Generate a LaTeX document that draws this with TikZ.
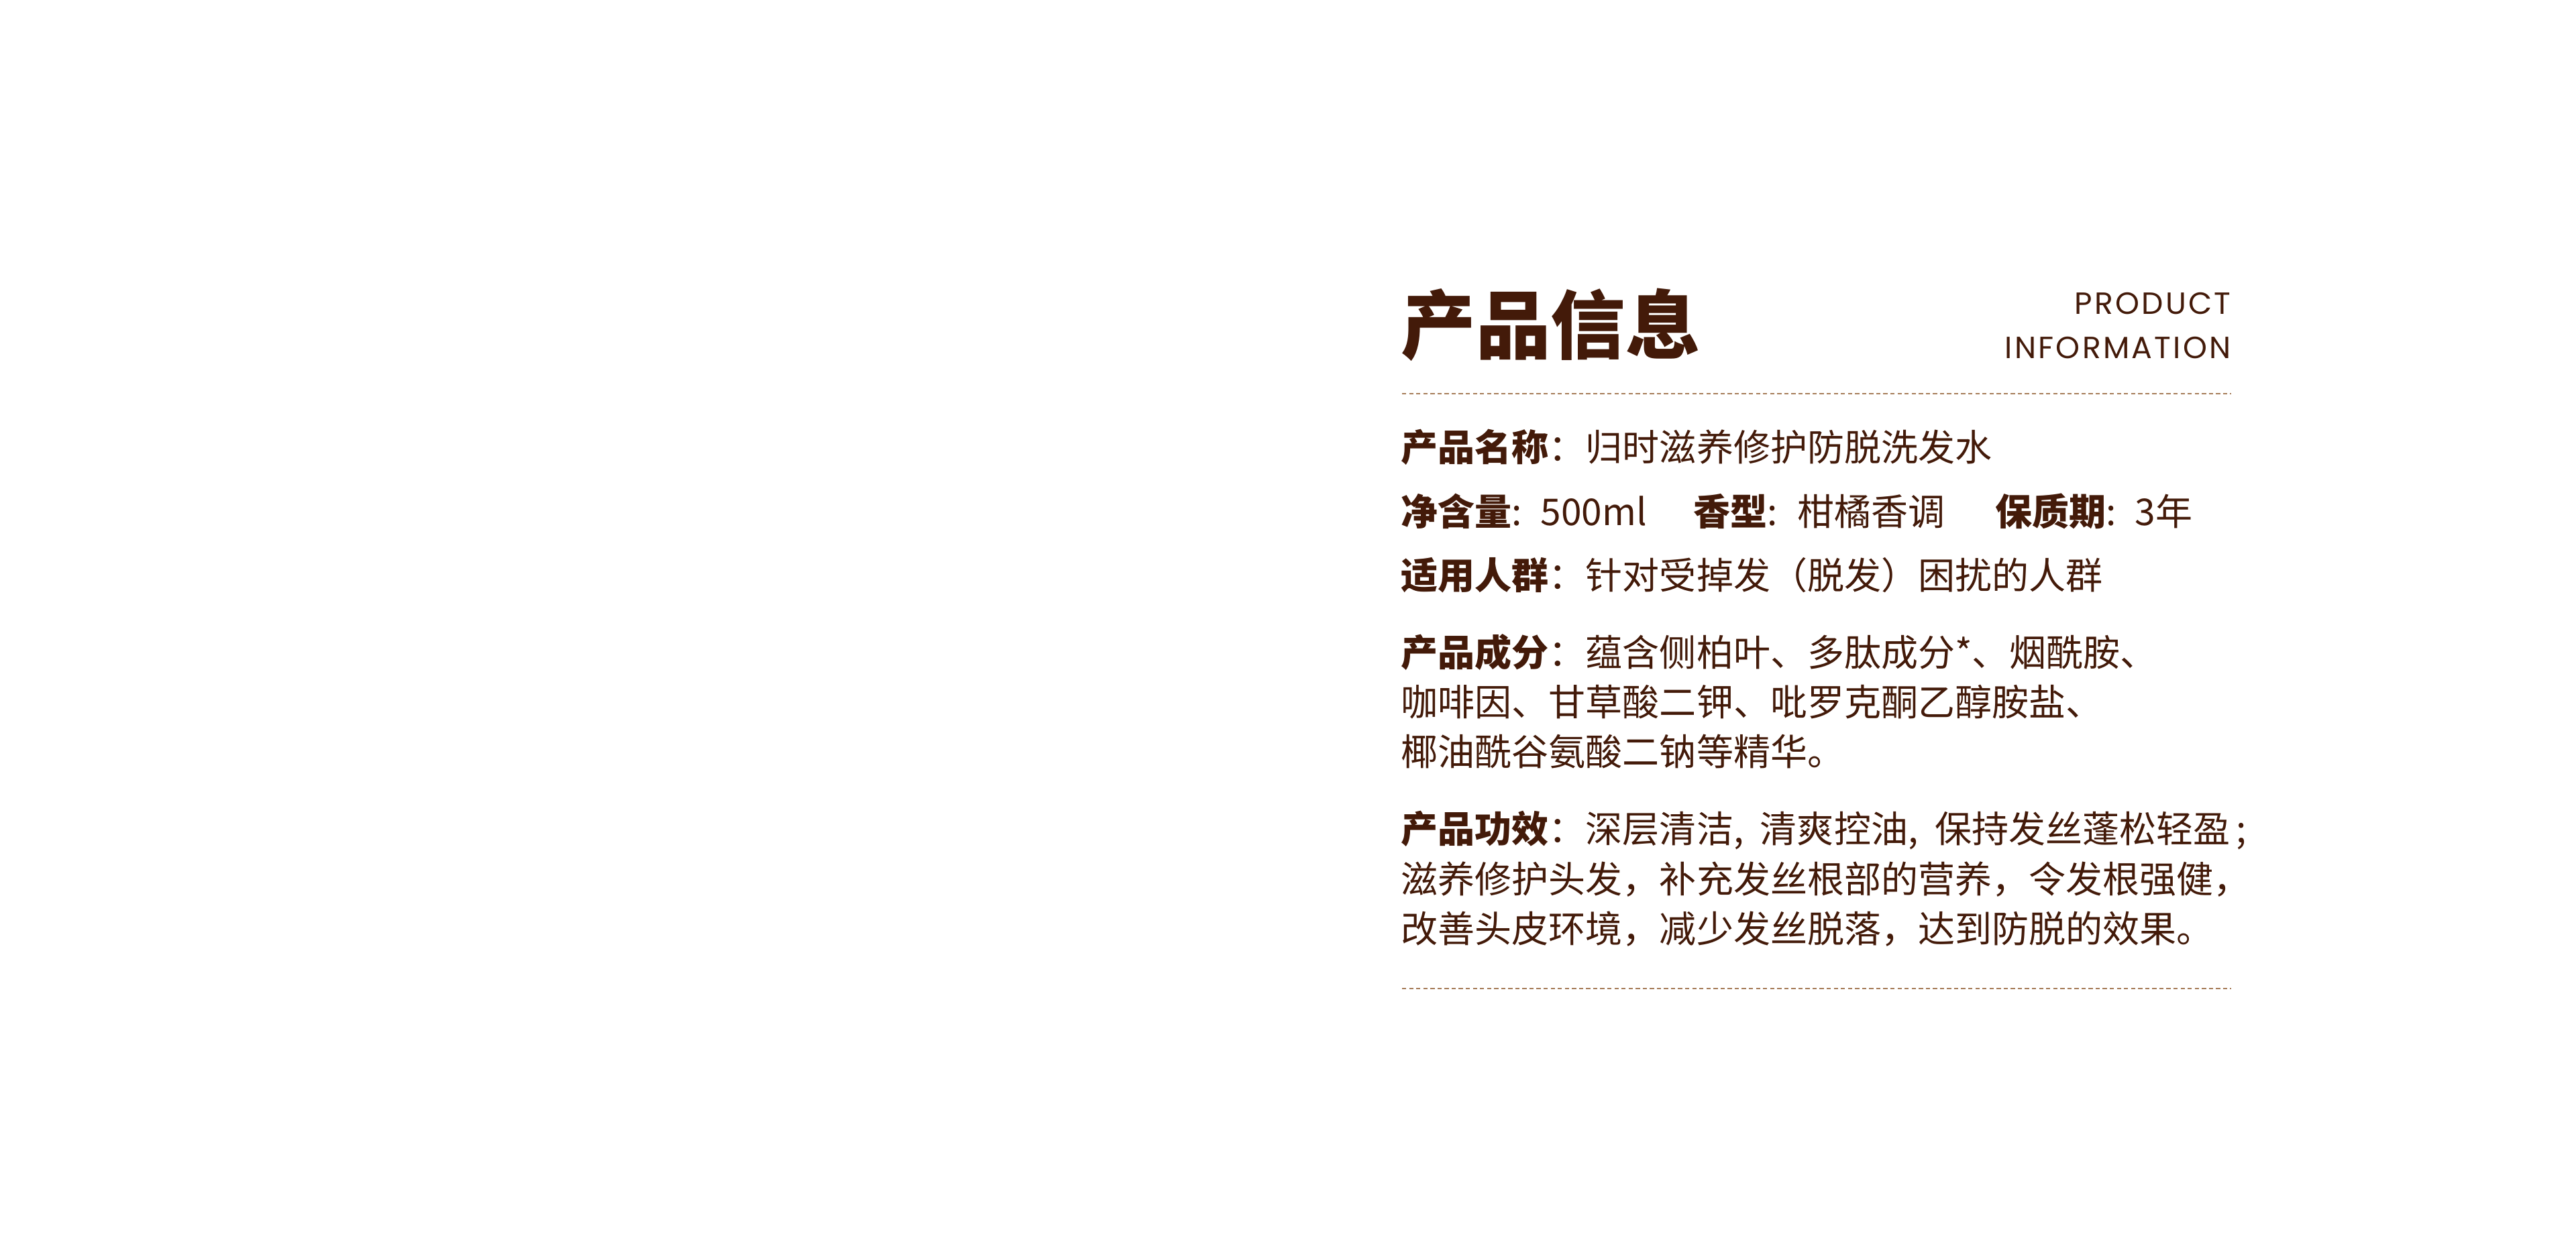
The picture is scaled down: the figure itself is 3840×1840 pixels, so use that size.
\documentclass[tikz,border=0pt]{standalone}
\usepackage{fontspec}
\setmainfont{Noto Sans CJK SC}
\newfontfamily\enfont{Poppins}[LetterSpace=7]
\definecolor{cocoa}{HTML}{431A09}
\definecolor{sand}{HTML}{A67C58}

\begin{document}
\begin{tikzpicture}[x=0.01cm,y=-0.01cm]
\tikzstyle{every node}+=[inner sep=0pt,anchor=base west,text=cocoa]
\tikzstyle{body}=[font=\fontsize{15.65pt}{18pt}\selectfont]
\tikzstyle{entext}=[anchor=base east,font=\fontsize{13pt}{15pt}\enfont]
\tikzstyle{rule}=[draw=sand,line width=0.65pt,dash pattern=on 1.8pt off 1.2pt]
\fill [white] (0,0) rectangle (3840,1840);
% heading
\node [font=\fontsize{31.7pt}{36pt}\selectfont\bfseries] (title) at (2088,527) {产品信息};
\node [entext] (en1) at (3326,469) {PRODUCT};
\node [entext] (en2) at (3326,535) {INFORMATION};
\coordinate (r1a) at (2090,587);
\coordinate (r1b) at (3326,587);
\draw [rule] (r1a) -- (r1b);
% basic facts
\node [body] (name) at (2088,687) {\textbf{产品名称}：归时滋养修护防脱洗发水};
\node [body] (vol) at (2088,783) {\textbf{净含量}:};
\node [body] (volv) at (2296,783) {500ml};
\node [body] (scent) at (2524,783) {\textbf{香型}:};
\node [body] (scentv) at (2679,783) {柑橘香调};
\node [body] (life) at (2974,783) {\textbf{保质期}:};
\node [body] (lifev) at (3182,783) {3年};
\node [body] (crowd) at (2088,878) {\textbf{适用人群}：针对受掉发（脱发）困扰的人群};
% ingredients
\node [body] (ing1) at (2088,993) {\textbf{产品成分}：蕴含侧柏叶、多肽成分*、烟酰胺、};
\node [body] (ing2) at (2088,1067) {咖啡因、甘草酸二钾、吡罗克酮乙醇胺盐、};
\node [body] (ing3) at (2088,1141) {椰油酰谷氨酸二钠等精华。};
% effects
\node [body] (eff1) at (2088,1256) {\textbf{产品功效}：深层清洁,\hspace{3.5pt} 清爽控油,\hspace{3.5pt} 保持发丝蓬松轻盈\hspace{2.5pt};};
\node [body] (eff2) at (2088,1331) {滋养修护头发，补充发丝根部的营养，令发根强健，};
\node [body] (eff3) at (2088,1405) {改善头皮环境，减少发丝脱落，达到防脱的效果。};
\coordinate (r2a) at (2090,1474);
\coordinate (r2b) at (3326,1474);
\draw [rule] (r2a) -- (r2b);
\end{tikzpicture}
\end{document}
